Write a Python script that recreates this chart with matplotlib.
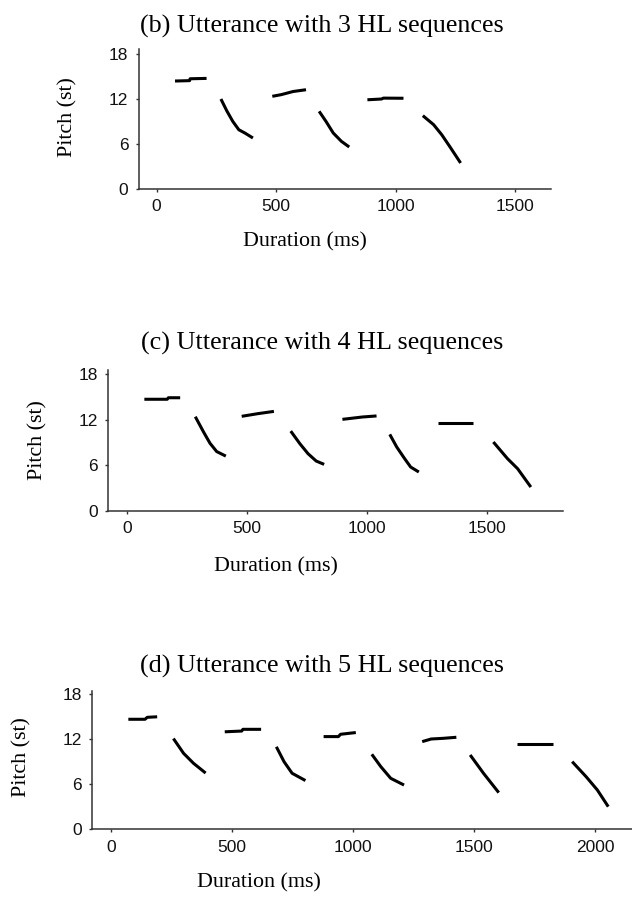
import matplotlib
matplotlib.use("Agg")
import matplotlib.pyplot as plt

W, H = 632, 897

# ---------------- data ----------------
titles = ["(b) Utterance with 3 HL sequences",
          "(c) Utterance with 4 HL sequences",
          "(d) Utterance with 5 HL sequences"]
ylabel = "Pitch (st)"
xlabel = "Duration (ms)"
yticks = [0, 6, 12, 18]
xticks_b = [0, 500, 1000, 1500]
xticks_c = [0, 500, 1000, 1500]
xticks_d = [0, 500, 1000, 1500, 2000]

# panel (b): pitch-track segments (time ms, pitch st)
b_x = [[77, 138, 140, 209],
       [269, 294, 319, 344, 370, 403],
       [484, 521, 571, 625],
       [680, 709, 739, 773, 806],
       [882, 941, 949, 1033],
       [1114, 1159, 1193, 1226, 1272]]
b_y = [[14.4, 14.45, 14.7, 14.75],
       [12.0, 10.4, 9.0, 7.9, 7.45, 6.8],
       [12.36, 12.58, 13.0, 13.24],
       [10.36, 9.0, 7.47, 6.36, 5.6],
       [11.9, 12.0, 12.12, 12.1],
       [9.78, 8.58, 7.24, 5.69, 3.47]]

# panel (c)
c_x = [[73, 168, 173, 222],
       [285, 319, 346, 374, 412],
       [478, 545, 612],
       [682, 720, 754, 788, 821],
       [897, 980, 1039],
       [1094, 1123, 1156, 1181, 1215],
       [1294, 1441],
       [1525, 1584, 1626, 1681]]
c_y = [[14.7, 14.7, 14.9, 14.9],
       [12.4, 10.4, 8.9, 7.8, 7.2],
       [12.45, 12.8, 13.1],
       [10.5, 8.84, 7.52, 6.55, 6.11],
       [12.05, 12.36, 12.5],
       [10.07, 8.4, 6.86, 5.76, 5.1],
       [11.6, 11.6],
       [9.06, 6.86, 5.54, 3.12]]

# panel (d)
d_x = [[72, 141, 150, 191],
       [258, 300, 341, 391],
       [470, 540, 545, 620],
       [683, 715, 748, 803],
       [878, 939, 948, 1011],
       [1077, 1114, 1155, 1210],
       [1285, 1322, 1372, 1426],
       [1483, 1538, 1601],
       [1676, 1824],
       [1904, 1962, 2008, 2053]]
d_y = [[14.67, 14.67, 14.93, 15.0],
       [12.1, 10.13, 8.8, 7.5],
       [13.0, 13.1, 13.33, 13.33],
       [11.0, 9.0, 7.47, 6.5],
       [12.36, 12.36, 12.67, 12.9],
       [10.0, 8.36, 6.8, 5.9],
       [11.69, 12.04, 12.13, 12.27],
       [9.91, 7.47, 4.89],
       [11.42, 11.42],
       [9.02, 7.0, 5.24, 3.02]]

# ---------------- layout (pixels) ----------------
panels = [
    dict(xs=b_x, ys=b_y, xticks=xticks_b, box=(138.7, 550.7, 49.3, 189.0),
         xlim=(-75, 1649), ylim=(0, 18.63),
         title_pos=(322, 26), xl_pos=(305, 242), yl_pos=(68, 117)),
    dict(xs=c_x, ys=c_y, xticks=xticks_c, box=(108.3, 563.3, 370.0, 510.7),
         xlim=(-77, 1816), ylim=(0, 18.56),
         title_pos=(322, 343), xl_pos=(276, 567), yl_pos=(38, 440)),
    dict(xs=d_x, ys=d_y, xticks=xticks_d, box=(92.0, 632.0, 690.7, 829.3),
         xlim=(-78, 2151), ylim=(0, 18.48),
         title_pos=(322, 666), xl_pos=(259, 883), yl_pos=(22, 757)),
]

serif = ["Liberation Serif", "DejaVu Serif"]
sans = ["Liberation Sans", "DejaVu Sans"]

fig = plt.figure(figsize=(W / 100, H / 100), dpi=100)
fig.patch.set_facecolor("white")

for i, p in enumerate(panels):
    l, r, t, b = p["box"]
    ax = fig.add_axes([l / W, 1 - b / H, (r - l) / W, (b - t) / H])
    for xs, ys in zip(p["xs"], p["ys"]):
        ax.plot(xs, ys, color="black", lw=2.2, solid_capstyle="butt")
    ax.set_xlim(*p["xlim"])
    ax.set_ylim(*p["ylim"])
    ax.set_xticks(p["xticks"])
    ax.set_yticks(yticks)
    for s in ["top", "right"]:
        ax.spines[s].set_visible(False)
    for s in ["left", "bottom"]:
        ax.spines[s].set_linewidth(1.1)
        ax.spines[s].set_color("#333333")
    ax.tick_params(direction="out", length=2.5, width=1, color="#333333",
                   pad=5, labelsize=12.5)
    for lab in ax.get_xticklabels() + ax.get_yticklabels():
        lab.set_family(sans)
        lab.set_color("#111111")
    ax.set_facecolor("none")

    tx, ty = p["title_pos"]
    fig.text(tx / W, 1 - ty / H, titles[i], ha="center", va="center",
             fontsize=18.8, family=serif, color="black")
    xx, xy = p["xl_pos"]
    fig.text(xx / W, 1 - xy / H, xlabel, ha="center", va="center",
             fontsize=15.8, family=serif, color="black")
    yx, yy = p["yl_pos"]
    fig.text(yx / W, 1 - yy / H, ylabel, ha="center", va="center",
             rotation=90, fontsize=15.8, family=serif, color="black")

fig.savefig("out.png", dpi=100, facecolor="white")
